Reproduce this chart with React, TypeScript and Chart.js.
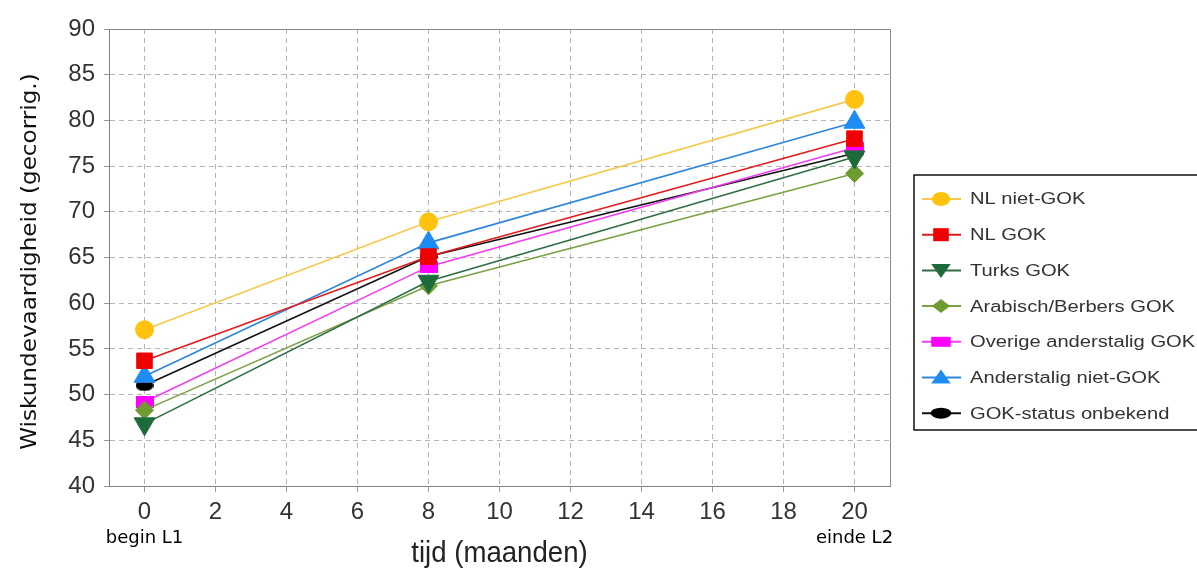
import React, { useEffect, useRef } from 'react';
import { Chart, registerables } from 'chart.js';

Chart.register(...registerables);

// ---- data ----
const months = [0, 8, 20];
const seriesNames = [
  'NL niet-GOK',
  'NL GOK',
  'Turks GOK',
  'Arabisch/Berbers GOK',
  'Overige anderstalig GOK',
  'Anderstalig niet-GOK',
  'GOK-status onbekend',
];
const nlNietGok = [57.1, 68.9, 82.3];
const nlGok = [53.7, 65.1, 78.0];
const turksGok = [46.8, 62.4, 76.0];
const arabischGok = [48.3, 61.9, 74.2];
const overigeGok = [49.2, 64.0, 77.0];
const anderstaligNietGok = [52.0, 66.6, 79.8];
const gokOnbekend = [51.0, 65.1, 76.4];
const seriesValues = [nlNietGok, nlGok, turksGok, arabischGok, overigeGok, anderstaligNietGok, gokOnbekend];

const xTicks = [0, 2, 4, 6, 8, 10, 12, 14, 16, 18, 20];
const yTicks = [40, 45, 50, 55, 60, 65, 70, 75, 80, 85, 90];
const xAnnotations = [
  { value: 0, text: 'begin L1' },
  { value: 20, text: 'einde L2' },
];
const yTitle = 'Wiskundevaardigheid (gecorrig.)';
const xTitle = 'tijd (maanden)';

// ---- styles ----
const markerColors = ['#FFC20E', '#F00000', '#1D6A3A', '#6F9C30', '#FF00FF', '#1E8CF5', '#000000'];
const lineColors = ['#F6C94E', '#E41B1B', '#2F6E44', '#7AA143', '#F23CF0', '#2E86DA', '#111111'];
const markerKinds = ['circle', 'rect', 'triDown', 'diamond', 'flatRect', 'triUp', 'ellipse'];

function makeImage(kind: string, color: string): HTMLCanvasElement {
  const c = document.createElement('canvas');
  c.width = 18;
  c.height = 12;
  const g = c.getContext('2d')!;
  g.fillStyle = color;
  if (kind === 'ellipse') {
    g.beginPath();
    g.ellipse(9, 6, 9, 5.5, 0, 0, Math.PI * 2);
    g.fill();
  } else {
    g.fillRect(0, 0, 18, 12);
  }
  return c;
}

function pointStyleFor(kind: string, color: string): any {
  switch (kind) {
    case 'circle': return { style: 'circle', radius: 9, rotation: 0 };
    case 'rect': return { style: 'rect', radius: 11, rotation: 0 };
    case 'triDown': return { style: 'triangle', radius: 12, rotation: 180 };
    case 'diamond': return { style: 'rectRot', radius: 9, rotation: 0 };
    case 'triUp': return { style: 'triangle', radius: 12, rotation: 0 };
    default: return { style: makeImage(kind, color), radius: 9, rotation: 0 };
  }
}

function drawLegendMarker(ctx: CanvasRenderingContext2D, kind: string, color: string, x: number, y: number) {
  ctx.save();
  ctx.translate(x, y);
  ctx.scale(1.3, 1);
  ctx.fillStyle = color;
  ctx.beginPath();
  if (kind === 'circle') {
    ctx.arc(0, 0, 7, 0, Math.PI * 2);
  } else if (kind === 'rect') {
    ctx.rect(-6, -6.5, 12, 13);
  } else if (kind === 'triDown') {
    ctx.moveTo(-7.5, -6.5); ctx.lineTo(7.5, -6.5); ctx.lineTo(0, 7.5); ctx.closePath();
  } else if (kind === 'diamond') {
    ctx.moveTo(0, -7); ctx.lineTo(7, 0); ctx.lineTo(0, 7); ctx.lineTo(-7, 0); ctx.closePath();
  } else if (kind === 'flatRect') {
    ctx.rect(-7.5, -5, 15, 10);
  } else if (kind === 'triUp') {
    ctx.moveTo(0, -8); ctx.lineTo(7.5, 6); ctx.lineTo(-7.5, 6); ctx.closePath();
  } else {
    ctx.ellipse(0, 0, 8, 5.5, 0, 0, Math.PI * 2);
  }
  ctx.fill();
  ctx.restore();
}

function drawScaledText(
  ctx: CanvasRenderingContext2D, text: string, x: number, y: number, font: string,
  color: string, sx: number, align: CanvasTextAlign, baseline: CanvasTextBaseline, rot = 0,
) {
  ctx.save();
  ctx.translate(x, y);
  if (rot) ctx.rotate(rot);
  ctx.scale(sx, 1);
  ctx.font = font;
  ctx.fillStyle = color;
  ctx.textAlign = align;
  ctx.textBaseline = baseline;
  ctx.fillText(text, 0, 0);
  ctx.restore();
}

const framePlugin = {
  id: 'frame',
  beforeDatasetsDraw(chart: any) {
    const { ctx, chartArea: a } = chart;
    ctx.save();
    ctx.strokeStyle = '#8a8a8a';
    ctx.lineWidth = 1;
    ctx.beginPath();
    ctx.moveTo(a.left, a.top + 0.5);
    ctx.lineTo(a.right + 0.5, a.top + 0.5);
    ctx.lineTo(a.right + 0.5, a.bottom);
    ctx.stroke();
    ctx.restore();
  },
  afterDraw(chart: any) {
    const { ctx, chartArea: a } = chart;
    const xs = chart.scales.x;
    // y title
    drawScaledText(ctx, yTitle, 30, (a.top + a.bottom) / 2 + 4, '22px "DejaVu Sans"', '#111', 1.05, 'center', 'middle', -Math.PI / 2);
    // x title
    drawScaledText(ctx, xTitle, (a.left + a.right) / 2, 562, '30px "Liberation Sans"', '#222', 0.92, 'center', 'alphabetic');
    // begin / einde
    xAnnotations.forEach((an) => {
      drawScaledText(ctx, an.text, xs.getPixelForValue(an.value), 543, '18px "DejaVu Sans"', '#000', 1, 'center', 'alphabetic');
    });
    // legend
    const lx = 914, ly = 175, lb = 430;
    ctx.save();
    ctx.strokeStyle = '#111';
    ctx.lineWidth = 1.5;
    ctx.beginPath();
    ctx.moveTo(1200, ly);
    ctx.lineTo(lx, ly);
    ctx.lineTo(lx, lb);
    ctx.lineTo(1200, lb);
    ctx.stroke();
    ctx.restore();
    seriesNames.forEach((name, i) => {
      const y = 199 + i * 35.7;
      ctx.save();
      ctx.strokeStyle = lineColors[i];
      ctx.lineWidth = 2;
      ctx.beginPath();
      ctx.moveTo(922, y);
      ctx.lineTo(961, y);
      ctx.stroke();
      ctx.restore();
      drawLegendMarker(ctx, markerKinds[i], markerColors[i], 941, y);
      drawScaledText(ctx, name, 970, y + 1, '16px "Liberation Sans"', '#333', 1.26, 'left', 'middle');
    });
  },
};

export default function App() {
  const ref = useRef<HTMLCanvasElement>(null);
  useEffect(() => {
    const datasets = seriesNames.map((name, i) => {
      const ps = pointStyleFor(markerKinds[i], markerColors[i]);
      return {
        label: name,
        data: months.map((m, j) => ({ x: m, y: seriesValues[i][j] })),
        borderColor: lineColors[i],
        borderWidth: 1.6,
        backgroundColor: markerColors[i],
        pointBackgroundColor: markerColors[i],
        pointBorderColor: markerColors[i],
        pointBorderWidth: 1,
        pointStyle: ps.style,
        pointRadius: ps.radius,
        pointRotation: ps.rotation,
        tension: 0,
        fill: false,
      };
    });
    const chart = new Chart(ref.current!, {
      type: 'line',
      data: { datasets },
      plugins: [framePlugin],
      options: {
        responsive: false,
        animation: false,
        layout: { padding: { left: 0, top: 29, right: 307, bottom: 0 } },
        plugins: { legend: { display: false }, tooltip: { enabled: false } },
        scales: {
          x: {
            type: 'linear',
            min: -1,
            max: 21,
            afterBuildTicks: (s: any) => { s.ticks = xTicks.map((v) => ({ value: v })); },
            afterFit: (s: any) => { s.height = 84; },
            grid: { color: '#b4b4b4', lineWidth: 1, tickLength: 6, tickColor: '#999' },
            border: { display: true, color: '#808080', width: 1, dash: [5, 4] },
            ticks: {
              autoSkip: false, maxRotation: 0, padding: 6, color: '#333',
              font: { family: '"Liberation Sans", Arial', size: 24 },
            },
          },
          y: {
            type: 'linear',
            min: 40,
            max: 90,
            afterBuildTicks: (s: any) => { s.ticks = yTicks.map((v) => ({ value: v })); },
            afterFit: (s: any) => { s.width = 109; },
            grid: { color: '#b4b4b4', lineWidth: 1, tickLength: 5, tickColor: '#999' },
            border: { display: true, color: '#808080', width: 1, dash: [5, 4] },
            ticks: {
              autoSkip: false, padding: 9, color: '#333',
              font: { family: '"Liberation Sans", Arial', size: 24 },
            },
          },
        },
      } as any,
    });
    return () => chart.destroy();
  }, []);
  return (
    <div style={{ position: 'absolute', left: 0, top: 0, width: 1197, height: 570, background: '#fff' }}>
      <canvas ref={ref} width={1197} height={570} style={{ display: 'block' }} />
    </div>
  );
}
